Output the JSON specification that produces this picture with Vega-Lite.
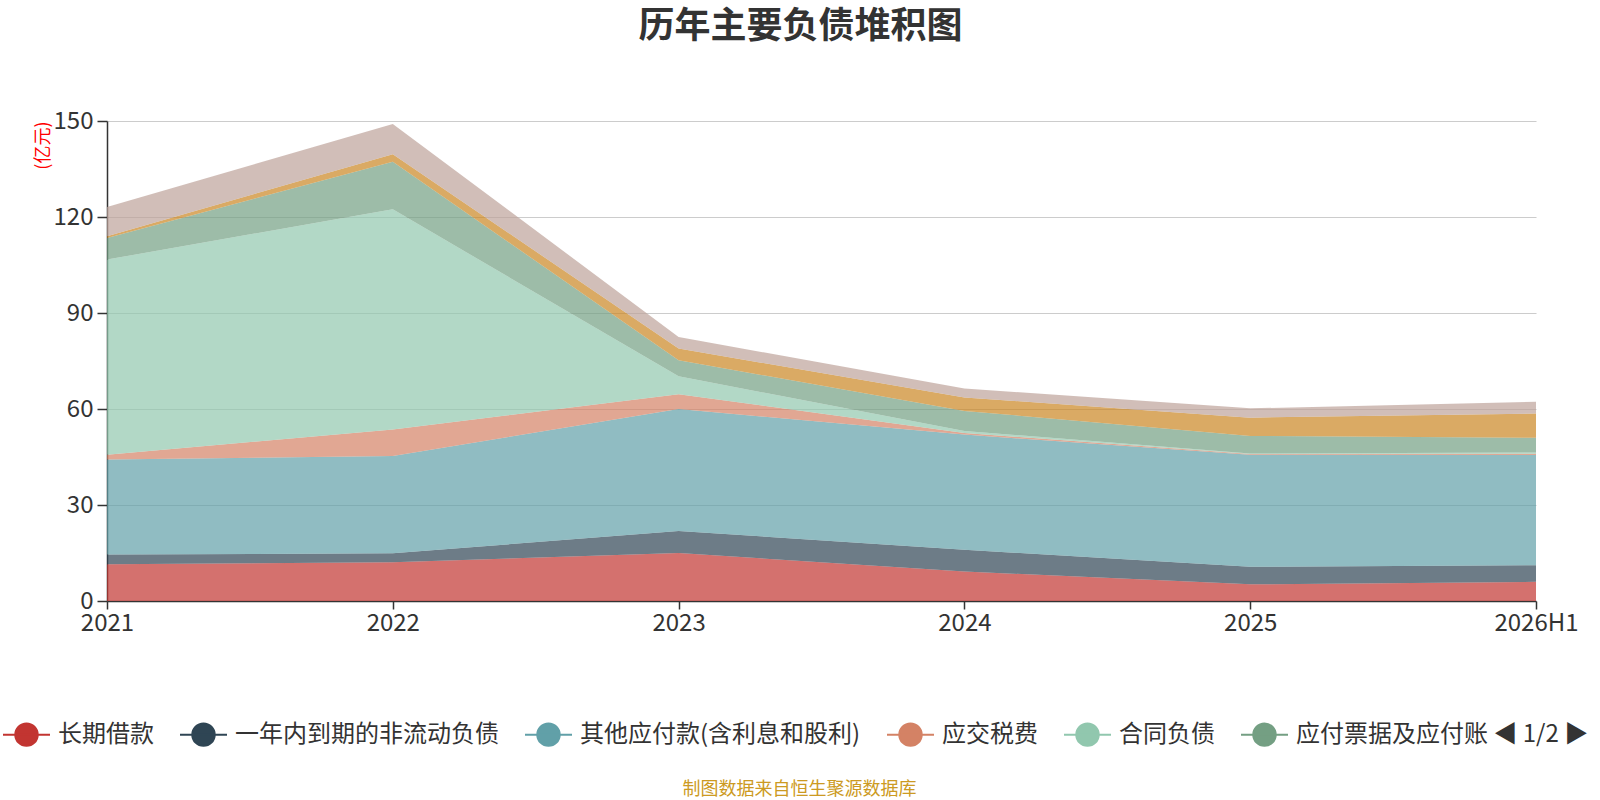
{
  "$schema": "https://vega.github.io/schema/vega-lite/v6.json",
  "autosize": {"type": "none"},
  "padding": {"left": 107, "top": 121, "right": 64, "bottom": 199},
  "width": 1429,
  "height": 480,
  "background": "#ffffff",
  "title": {
    "text": "历年主要负债堆积图",
    "anchor": "middle",
    "dx": -21,
    "offset": 63,
    "fontSize": 36,
    "fontWeight": "bold",
    "color": "#333333",
    "font": "Noto Sans CJK SC"
  },
  "config": {
    "font": "Noto Sans CJK SC",
    "view": {"stroke": null}
  },
  "data": {
    "values": [
      {"year": "2021", "item": "长期借款", "seq": 1, "value": 11.5},
      {"year": "2021", "item": "一年内到期的非流动负债", "seq": 2, "value": 3.0},
      {"year": "2021", "item": "其他应付款(含利息和股利)", "seq": 3, "value": 29.7},
      {"year": "2021", "item": "应交税费", "seq": 4, "value": 1.5},
      {"year": "2021", "item": "合同负债", "seq": 5, "value": 61.0},
      {"year": "2021", "item": "应付票据及应付账款", "seq": 6, "value": 6.7},
      {"year": "2021", "item": "应付职工薪酬", "seq": 7, "value": 0.6},
      {"year": "2021", "item": "短期借款", "seq": 8, "value": 9.1},
      {"year": "2022", "item": "长期借款", "seq": 1, "value": 12.1},
      {"year": "2022", "item": "一年内到期的非流动负债", "seq": 2, "value": 2.8},
      {"year": "2022", "item": "其他应付款(含利息和股利)", "seq": 3, "value": 30.4},
      {"year": "2022", "item": "应交税费", "seq": 4, "value": 8.3},
      {"year": "2022", "item": "合同负债", "seq": 5, "value": 68.8},
      {"year": "2022", "item": "应付票据及应付账款", "seq": 6, "value": 14.9},
      {"year": "2022", "item": "应付职工薪酬", "seq": 7, "value": 2.3},
      {"year": "2022", "item": "短期借款", "seq": 8, "value": 9.5},
      {"year": "2023", "item": "长期借款", "seq": 1, "value": 15.0},
      {"year": "2023", "item": "一年内到期的非流动负债", "seq": 2, "value": 6.9},
      {"year": "2023", "item": "其他应付款(含利息和股利)", "seq": 3, "value": 38.1},
      {"year": "2023", "item": "应交税费", "seq": 4, "value": 4.6},
      {"year": "2023", "item": "合同负债", "seq": 5, "value": 5.6},
      {"year": "2023", "item": "应付票据及应付账款", "seq": 6, "value": 5.0},
      {"year": "2023", "item": "应付职工薪酬", "seq": 7, "value": 3.7},
      {"year": "2023", "item": "短期借款", "seq": 8, "value": 3.6},
      {"year": "2024", "item": "长期借款", "seq": 1, "value": 9.2},
      {"year": "2024", "item": "一年内到期的非流动负债", "seq": 2, "value": 6.8},
      {"year": "2024", "item": "其他应付款(含利息和股利)", "seq": 3, "value": 36.0},
      {"year": "2024", "item": "应交税费", "seq": 4, "value": 0.5},
      {"year": "2024", "item": "合同负债", "seq": 5, "value": 0.6},
      {"year": "2024", "item": "应付票据及应付账款", "seq": 6, "value": 6.3},
      {"year": "2024", "item": "应付职工薪酬", "seq": 7, "value": 4.2},
      {"year": "2024", "item": "短期借款", "seq": 8, "value": 2.8},
      {"year": "2025", "item": "长期借款", "seq": 1, "value": 5.2},
      {"year": "2025", "item": "一年内到期的非流动负债", "seq": 2, "value": 5.5},
      {"year": "2025", "item": "其他应付款(含利息和股利)", "seq": 3, "value": 35.0},
      {"year": "2025", "item": "应交税费", "seq": 4, "value": 0.2},
      {"year": "2025", "item": "合同负债", "seq": 5, "value": 0.2},
      {"year": "2025", "item": "应付票据及应付账款", "seq": 6, "value": 5.5},
      {"year": "2025", "item": "应付职工薪酬", "seq": 7, "value": 5.7},
      {"year": "2025", "item": "短期借款", "seq": 8, "value": 2.9},
      {"year": "2026H1", "item": "长期借款", "seq": 1, "value": 6.0},
      {"year": "2026H1", "item": "一年内到期的非流动负债", "seq": 2, "value": 5.2},
      {"year": "2026H1", "item": "其他应付款(含利息和股利)", "seq": 3, "value": 34.4},
      {"year": "2026H1", "item": "应交税费", "seq": 4, "value": 0.4},
      {"year": "2026H1", "item": "合同负债", "seq": 5, "value": 0.4},
      {"year": "2026H1", "item": "应付票据及应付账款", "seq": 6, "value": 4.6},
      {"year": "2026H1", "item": "应付职工薪酬", "seq": 7, "value": 7.6},
      {"year": "2026H1", "item": "短期借款", "seq": 8, "value": 3.7}
    ]
  },
  "mark": {"type": "area", "opacity": 0.7, "line": false},
  "encoding": {
    "x": {
      "field": "year",
      "type": "ordinal",
      "scale": {"type": "point", "padding": 0},
      "axis": {
        "labelAngle": 0,
        "labelFontSize": 24,
        "labelColor": "#333333",
        "labelPadding": 2,
        "domainColor": "#333333",
        "domainWidth": 1.5,
        "tickColor": "#333333",
        "tickWidth": 1.5,
        "tickSize": 8,
        "title": "制图数据来自恒生聚源数据库",
        "titleColor": "#cc9a22",
        "titleFontSize": 18,
        "titleFontWeight": "normal",
        "titleX": 692,
        "titleY": 188,
        "titleAlign": "center",
        "titleBaseline": "middle"
      }
    },
    "y": {
      "field": "value",
      "type": "quantitative",
      "aggregate": "sum",
      "stack": "zero",
      "scale": {"domain": [0, 150], "nice": false},
      "axis": {
        "values": [0, 30, 60, 90, 120, 150],
        "labelFontSize": 24,
        "labelColor": "#333333",
        "labelPadding": 4,
        "domainColor": "#333333",
        "domainWidth": 1.5,
        "tickColor": "#333333",
        "tickWidth": 1.5,
        "tickSize": 10,
        "gridColor": "#cccccc",
        "gridWidth": 1.2,
        "title": "(亿元)",
        "titleColor": "#ff0000",
        "titleFontSize": 18,
        "titleFontWeight": "normal",
        "titleAngle": -90,
        "titleX": -64,
        "titleY": 0,
        "titleAlign": "right",
        "titleBaseline": "middle"
      }
    },
    "order": {"field": "seq", "type": "quantitative", "sort": "ascending"},
    "color": {
      "field": "item",
      "type": "nominal",
      "scale": {
        "domain": ["长期借款", "一年内到期的非流动负债", "其他应付款(含利息和股利)", "应交税费", "合同负债", "应付票据及应付账款", "应付职工薪酬", "短期借款"],
        "range": ["#c23531", "#2f4554", "#61a0a8", "#d48265", "#91c7ae", "#749f83", "#ca8622", "#bda29a"]
      },
      "legend": {
        "orient": "none",
        "legendX": -105,
        "legendY": 589,
        "direction": "horizontal",
        "columns": 6,
        "columnPadding": 22,
        "title": null,
        "values": ["长期借款", "一年内到期的非流动负债", "其他应付款(含利息和股利)", "应交税费", "合同负债", "应付票据及应付账款"],
        "symbolType": "M-1,0H1M-0.478,0A0.478,0.478,0,1,1,0.478,0A0.478,0.478,0,1,1,-0.478,0Z",
        "symbolSize": 2209,
        "symbolStrokeWidth": 2,
        "symbolOpacity": 1,
        "labelFontSize": 24,
        "labelColor": "#333333",
        "labelOffset": 7,
        "labelLimit": 500,
        "labelExpr": "datum.label == '应付票据及应付账款' ? '应付票据及应付账  ◀ 1/2 ▶' : datum.label",
        "encode": {
          "symbols": {
            "update": {
              "stroke": {"scale": "color", "field": "value"},
              "fill": {"scale": "color", "field": "value"},
              "opacity": {"value": 1}
            }
          }
        }
      }
    }
  }
}
